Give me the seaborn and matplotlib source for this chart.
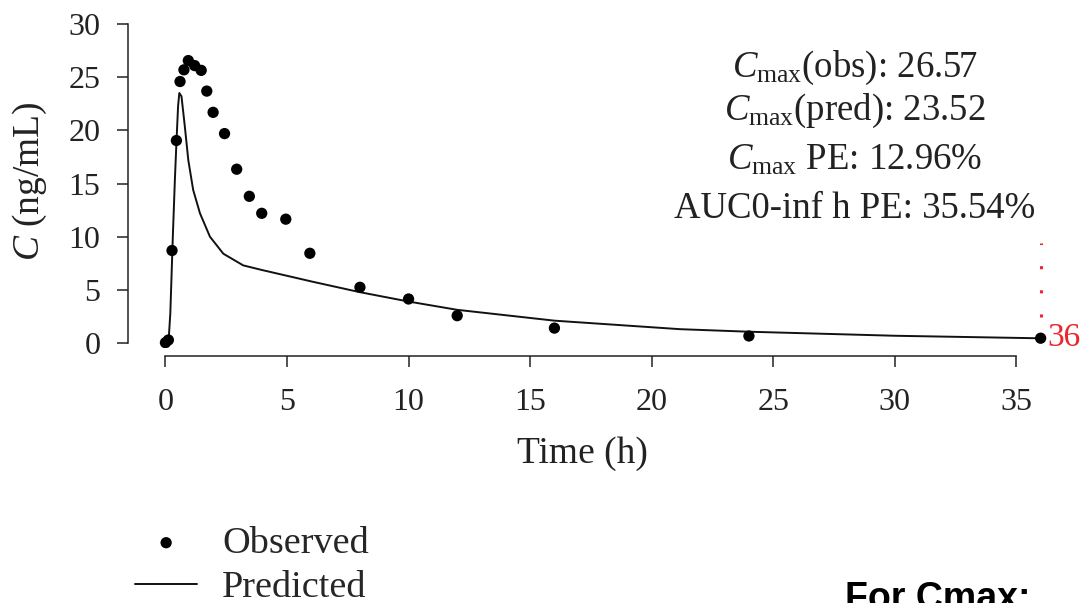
import matplotlib
matplotlib.use("Agg")
import matplotlib.pyplot as plt
import seaborn as sns
import pandas as pd

# ---- data ----
obs_time = [0, 0.12, 0.27, 0.45, 0.6, 0.76, 0.94, 1.2, 1.47, 1.7, 1.96, 2.43,
            2.93, 3.45, 3.96, 4.95, 5.94, 8, 10, 12, 16, 24, 36]
obs_conc = [0.03, 0.28, 8.7, 19.05, 24.6, 25.7, 26.57, 26.1, 25.65, 23.7, 21.7,
            19.7, 16.35, 13.8, 12.2, 11.65, 8.44, 5.24, 4.14, 2.57, 1.4, 0.66, 0.45]
pred_time = [0, 0.08, 0.14, 0.2, 0.26, 0.3, 0.39, 0.46, 0.52, 0.57, 0.66, 0.8,
             0.94, 1.14, 1.42, 1.83, 2.38, 3.2, 4.0, 4.7, 6.08, 8, 10, 12, 16,
             21.16, 24, 30, 36]
pred_conc = [0, 0.1, 0.6, 2.8, 7.0, 9.8, 15.5, 19.3, 22.3, 23.52, 23.2, 20.3,
             17.2, 14.4, 12.2, 10.0, 8.4, 7.3, 6.85, 6.48, 5.75, 4.78, 3.9, 3.12, 2.1,
             1.3, 1.06, 0.68, 0.44]
x_ticks = [0, 5, 10, 15, 20, 25, 30, 35]
y_ticks = [0, 5, 10, 15, 20, 25, 30]
annot_lines = [r"$\mathit{C}_{\mathrm{max}}$(obs): 26.57",
               r"$\mathit{C}_{\mathrm{max}}$(pred): 23.52",
               r"$\mathit{C}_{\mathrm{max}}$ PE: 12.96%",
               "AUC0-inf h PE: 35.54%"]
last_time_label = "36"

sns.set_style("ticks")
plt.rcParams["font.family"] = ["Liberation Serif", "DejaVu Serif"]
plt.rcParams["mathtext.fontset"] = "custom"
plt.rcParams["mathtext.rm"] = "Liberation Serif"
plt.rcParams["mathtext.it"] = "Liberation Serif:italic"
plt.rcParams["mathtext.bf"] = "Liberation Serif:bold"

W, H = 1085, 603
fig = plt.figure(figsize=(W / 100, H / 100), dpi=100)
left_px, right_px, top_px, bot_px = 153.3, 1052.8, 13.5, 348.3
ax = fig.add_axes([left_px / W, 1 - bot_px / H, (right_px - left_px) / W, (bot_px - top_px) / H])

obs_df = pd.DataFrame({"time": obs_time, "conc": obs_conc})
pred_df = pd.DataFrame({"time": pred_time, "conc": pred_conc})

sns.lineplot(data=pred_df, x="time", y="conc", ax=ax, color="#111111", lw=1.4,
             estimator=None, sort=False, label="Predicted", zorder=2)
sns.scatterplot(data=obs_df, x="time", y="conc", ax=ax, color="black", s=66,
                edgecolor="none", label="Observed", zorder=3)

ax.set_xlim(-0.5, 36.5)
ax.set_ylim(-0.5, 31)
ax.set_xticks(x_ticks)
ax.set_yticks(y_ticks)
ax.tick_params(axis="both", labelsize=23, length=8, width=1.1, colors="#222222")
ax.tick_params(axis="x", pad=15)
ax.tick_params(axis="y", pad=12)
for s in ax.spines.values():
    s.set_linewidth(1.1)
    s.set_color("#222222")
sns.despine(ax=ax, offset={"left": 18, "bottom": 5.5}, trim=True)

ax.set_xlabel("Time (h)", fontsize=27, color="#222222")
ax.set_ylabel(r"$\mathit{C}$ (ng/mL)", fontsize=27, color="#222222")
ax.xaxis.set_label_coords((582.5 - left_px) / (right_px - left_px), (bot_px - 436) / (bot_px - top_px))
ax.yaxis.set_label_coords((49 - left_px) / (right_px - left_px), 0.5)

# red dotted marker at last time point
ax.vlines(obs_time[-1], 2.4, 9.4, colors="#e8262b", lw=2.2, linestyles=(0, (1, 6.9)))
ax.annotate(last_time_label, xy=(obs_time[-1], obs_conc[-1]), xytext=(5, 0),
            textcoords="offset points", color="#e8262b", fontsize=24,
            ha="left", va="center", annotation_clip=False)

# annotation text block
baselines = [76.7, 120, 170, 218.3]
for txt, yb in zip(annot_lines, baselines):
    fig.text(855 / W, 1 - yb / H, txt, fontsize=26.5, ha="center", va="baseline", color="#222222")

# legend below
handles, labels = ax.get_legend_handles_labels()
order = [labels.index("Observed"), labels.index("Predicted")]
if ax.get_legend() is not None:
    ax.get_legend().remove()
fig.legend([handles[i] for i in order], [labels[i] for i in order],
           loc="upper left", bbox_to_anchor=(135 / W, 1 - 526 / H),
           frameon=False, fontsize=27.5, handlelength=1.63, handletextpad=0.65,
           borderpad=0, borderaxespad=0, labelspacing=0.25, markerscale=1.0,
           scatterpoints=1)

fig.text(845 / W, 1 - 609 / H, "For Cmax:", fontsize=27, fontweight="bold",
         family=["Liberation Sans", "DejaVu Sans"], ha="left", va="baseline", color="black")

fig.savefig("out.png", dpi=100)
